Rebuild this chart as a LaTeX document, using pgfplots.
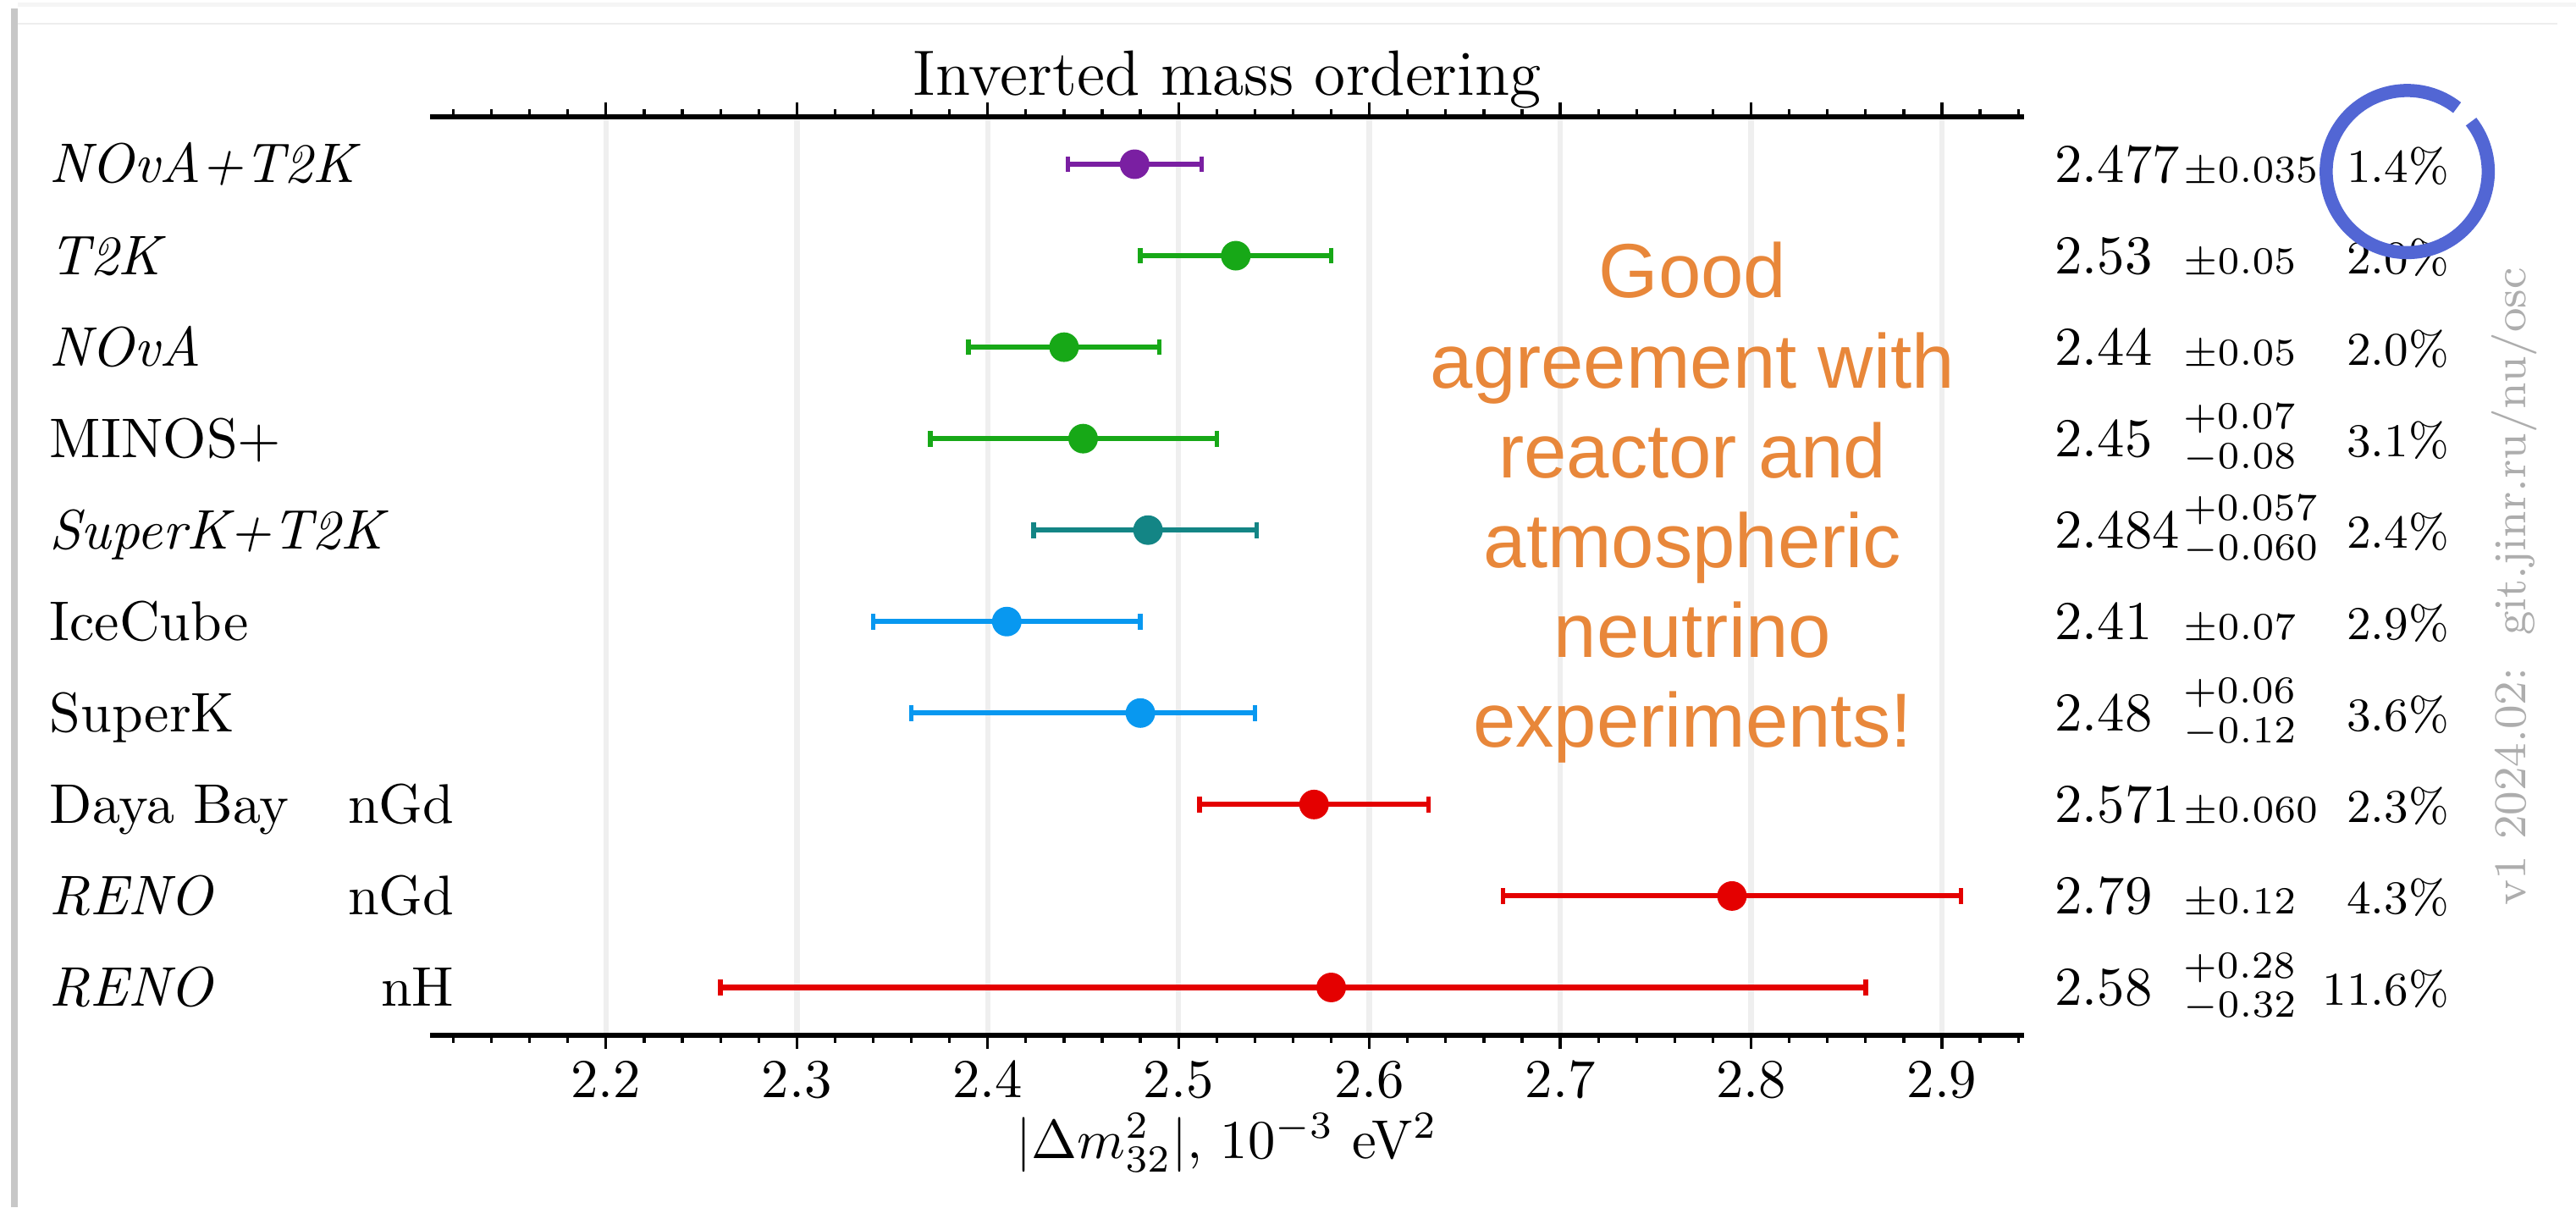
\documentclass[border=0pt]{standalone}
\usepackage{pgfplots}
\pgfplotsset{compat=1.18}
\usepackage{pgfplotstable}
\usepackage{fontspec}
\newfontfamily\orangefont{Liberation Sans}
\definecolor{cpurple}{HTML}{7A1FA2}
\definecolor{cgreen}{HTML}{17A817}
\definecolor{cteal}{HTML}{138585}
\definecolor{cblue}{HTML}{0898F0}
\definecolor{cred}{HTML}{E40000}
\definecolor{corange}{HTML}{E8873A}
\definecolor{ccircle}{HTML}{5266D4}
\definecolor{cgrid}{HTML}{EFEFEF}

% x  y  ep  em
\pgfplotstableread{
x y ep em
2.477 10 0.035 0.035
}\tpurple
\pgfplotstableread{
x y ep em
2.53 9 0.05 0.05
2.44 8 0.05 0.05
2.45 7 0.07 0.08
}\tgreen
\pgfplotstableread{
x y ep em
2.484 6 0.057 0.060
}\tteal
\pgfplotstableread{
x y ep em
2.41 5 0.07 0.07
2.48 4 0.06 0.12
}\tblue
\pgfplotstableread{
x y ep em
2.571 3 0.060 0.060
2.79 2 0.12 0.12
2.58 1 0.28 0.32
}\tred

\begin{document}
\begin{tikzpicture}[
  lab/.style={anchor=base west, yshift=-3.4pt, inner sep=0pt, font=\fontsize{10.2}{12}\selectfont},
  labr/.style={anchor=base east, yshift=-3.4pt, inner sep=0pt, font=\fontsize{10.2}{12}\selectfont},
  val/.style={anchor=base west, yshift=-3.3pt, inner sep=0pt, font=\fontsize{10}{12}\selectfont},
  pm/.style={anchor=base west, yshift=-3.3pt, inner sep=0pt, font=\fontsize{7.5}{9}\selectfont},
  asym/.style={anchor=west, inner sep=0pt, align=left, font=\fontsize{7.5}{7.2}\selectfont},
  pct/.style={anchor=base east, yshift=-3.3pt, inner sep=0pt, font=\fontsize{8.6}{10}\selectfont},
]
\begin{axis}[
  at={(78.6pt,31.5pt)}, anchor=south west,
  scale only axis, width=291pt, height=167.7pt,
  xmin=2.108, xmax=2.943, ymin=0.48, ymax=10.52,
  xtick={2.2,2.3,2.4,2.5,2.6,2.7,2.8,2.9},
  minor xtick={2.12,2.14,2.16,2.18,2.22,2.24,2.26,2.28,2.32,2.34,2.36,2.38,2.42,2.44,2.46,2.48,2.52,2.54,2.56,2.58,2.62,2.64,2.66,2.68,2.72,2.74,2.76,2.78,2.82,2.84,2.86,2.88,2.92,2.94},
  ytick=\empty,
  tick align=outside,
  major tick length=2.6pt, minor tick length=1.4pt,
  separate axis lines,
  y axis line style={draw=none},
  x axis line style={line width=0.9pt},
  every tick/.style={black, line width=0.5pt},
  xmajorgrids, major grid style={cgrid, line width=1pt},
  xticklabel style={font=\fontsize{10}{12}\selectfont, yshift=1.2pt},
  clip=false,
  every axis plot/.append style={only marks, mark=*, mark size=2.5pt,
    error bars/x dir=both, error bars/x explicit,
    error bars/error bar style={line width=0.95pt},
    error bars/error mark options={rotate=90, mark size=1.45pt, line width=0.85pt}},
]
\addplot[color=cpurple] table[x=x, y=y, x error plus=ep, x error minus=em] {\tpurple};
\addplot[color=cgreen] table[x=x, y=y, x error plus=ep, x error minus=em] {\tgreen};
\addplot[color=cteal] table[x=x, y=y, x error plus=ep, x error minus=em] {\tteal};
\addplot[color=cblue] table[x=x, y=y, x error plus=ep, x error minus=em] {\tblue};
\addplot[color=cred] table[x=x, y=y, x error plus=ep, x error minus=em] {\tred};

% row labels
\node[lab] at (axis cs:1.908,10) {\textit{NOvA+T2K}};
\node[lab] at (axis cs:1.908,9) {\textit{T2K}};
\node[lab] at (axis cs:1.908,8) {\textit{NOvA}};
\node[lab] at (axis cs:1.908,7) {MINOS+};
\node[lab] at (axis cs:1.908,6) {\textit{SuperK+T2K}};
\node[lab] at (axis cs:1.908,5) {IceCube};
\node[lab] at (axis cs:1.908,4) {SuperK};
\node[lab] at (axis cs:1.908,3) {Daya Bay};
\node[lab] at (axis cs:1.908,2) {\textit{RENO}};
\node[lab] at (axis cs:1.908,1) {\textit{RENO}};
\node[labr] at (axis cs:2.121,3) {nGd};
\node[labr] at (axis cs:2.121,2) {nGd};
\node[labr] at (axis cs:2.121,1) {nH};

% values
\node[val] at (axis cs:2.9587,10) {2.477};
\node[val] at (axis cs:2.9587,9) {2.53};
\node[val] at (axis cs:2.9587,8) {2.44};
\node[val] at (axis cs:2.9587,7) {2.45};
\node[val] at (axis cs:2.9587,6) {2.484};
\node[val] at (axis cs:2.9587,5) {2.41};
\node[val] at (axis cs:2.9587,4) {2.48};
\node[val] at (axis cs:2.9587,3) {2.571};
\node[val] at (axis cs:2.9587,2) {2.79};
\node[val] at (axis cs:2.9587,1) {2.58};

\node[pm] at (axis cs:3.0259,10) {$\pm0.035$};
\node[pm] at (axis cs:3.0259,9) {$\pm0.05$};
\node[pm] at (axis cs:3.0259,8) {$\pm0.05$};
\node[asym] at (axis cs:3.0259,7) {$+0.07$\\$-0.08$};
\node[asym] at (axis cs:3.0259,6) {$+0.057$\\$-0.060$};
\node[pm] at (axis cs:3.0259,5) {$\pm0.07$};
\node[asym] at (axis cs:3.0259,4) {$+0.06$\\$-0.12$};
\node[pm] at (axis cs:3.0259,3) {$\pm0.060$};
\node[pm] at (axis cs:3.0259,2) {$\pm0.12$};
\node[asym] at (axis cs:3.0259,1) {$+0.28$\\$-0.32$};

\node[pct] at (axis cs:3.1662,10) {1.4\%};
\node[pct] at (axis cs:3.1662,9) {2.0\%};
\node[pct] at (axis cs:3.1662,8) {2.0\%};
\node[pct] at (axis cs:3.1662,7) {3.1\%};
\node[pct] at (axis cs:3.1662,6) {2.4\%};
\node[pct] at (axis cs:3.1662,5) {2.9\%};
\node[pct] at (axis cs:3.1662,4) {3.6\%};
\node[pct] at (axis cs:3.1662,3) {2.3\%};
\node[pct] at (axis cs:3.1662,2) {4.3\%};
\node[pct] at (axis cs:3.1662,1) {11.6\%};

% highlight circle
\draw[ccircle, line width=2.4pt] ([shift={(52:14.8pt)}]axis cs:3.1438,9.92) arc[start angle=52, end angle=398, radius=14.8pt];

% orange comment
\node[align=center, font=\orangefont\fontsize{14}{16.4}\selectfont, text=corange] at (axis cs:2.7693,6.30) {Good\\agreement with\\reactor and\\atmospheric\\neutrino\\experiments!};

% watermark
\node[rotate=90, text=black!32, inner sep=0pt, font=\fontsize{8.3}{10}\selectfont] at (axis cs:3.1998,5.383) {v1 2024.02:\ \ git.jinr.ru/nu/osc};

% title and xlabel
\node[anchor=base, inner sep=0pt, font=\fontsize{11.7}{14}\selectfont] at ([yshift=3.9pt]rel axis cs:0.5,1) {Inverted mass ordering};
\node[anchor=base, inner sep=0pt, font=\fontsize{10}{12}\selectfont] at ([yshift=-22.5pt]rel axis cs:0.5,0) {$|\Delta m^2_{32}|$, $10^{-3}$ eV$^2$};
\end{axis}
% frame
\draw[line width=1.2pt, black!22] (2.6pt,0pt) -- (2.6pt,219pt);
\draw[line width=0.4pt, black!7] (3.2pt,216.2pt) -- (467pt,216.2pt);
\draw[line width=0.8pt, black!4] (3.2pt,219.6pt) -- (470.4pt,219.6pt);
\pgfresetboundingbox
\path[use as bounding box] (0,0) rectangle (470.4pt,220.5pt);
\end{tikzpicture}
\end{document}
